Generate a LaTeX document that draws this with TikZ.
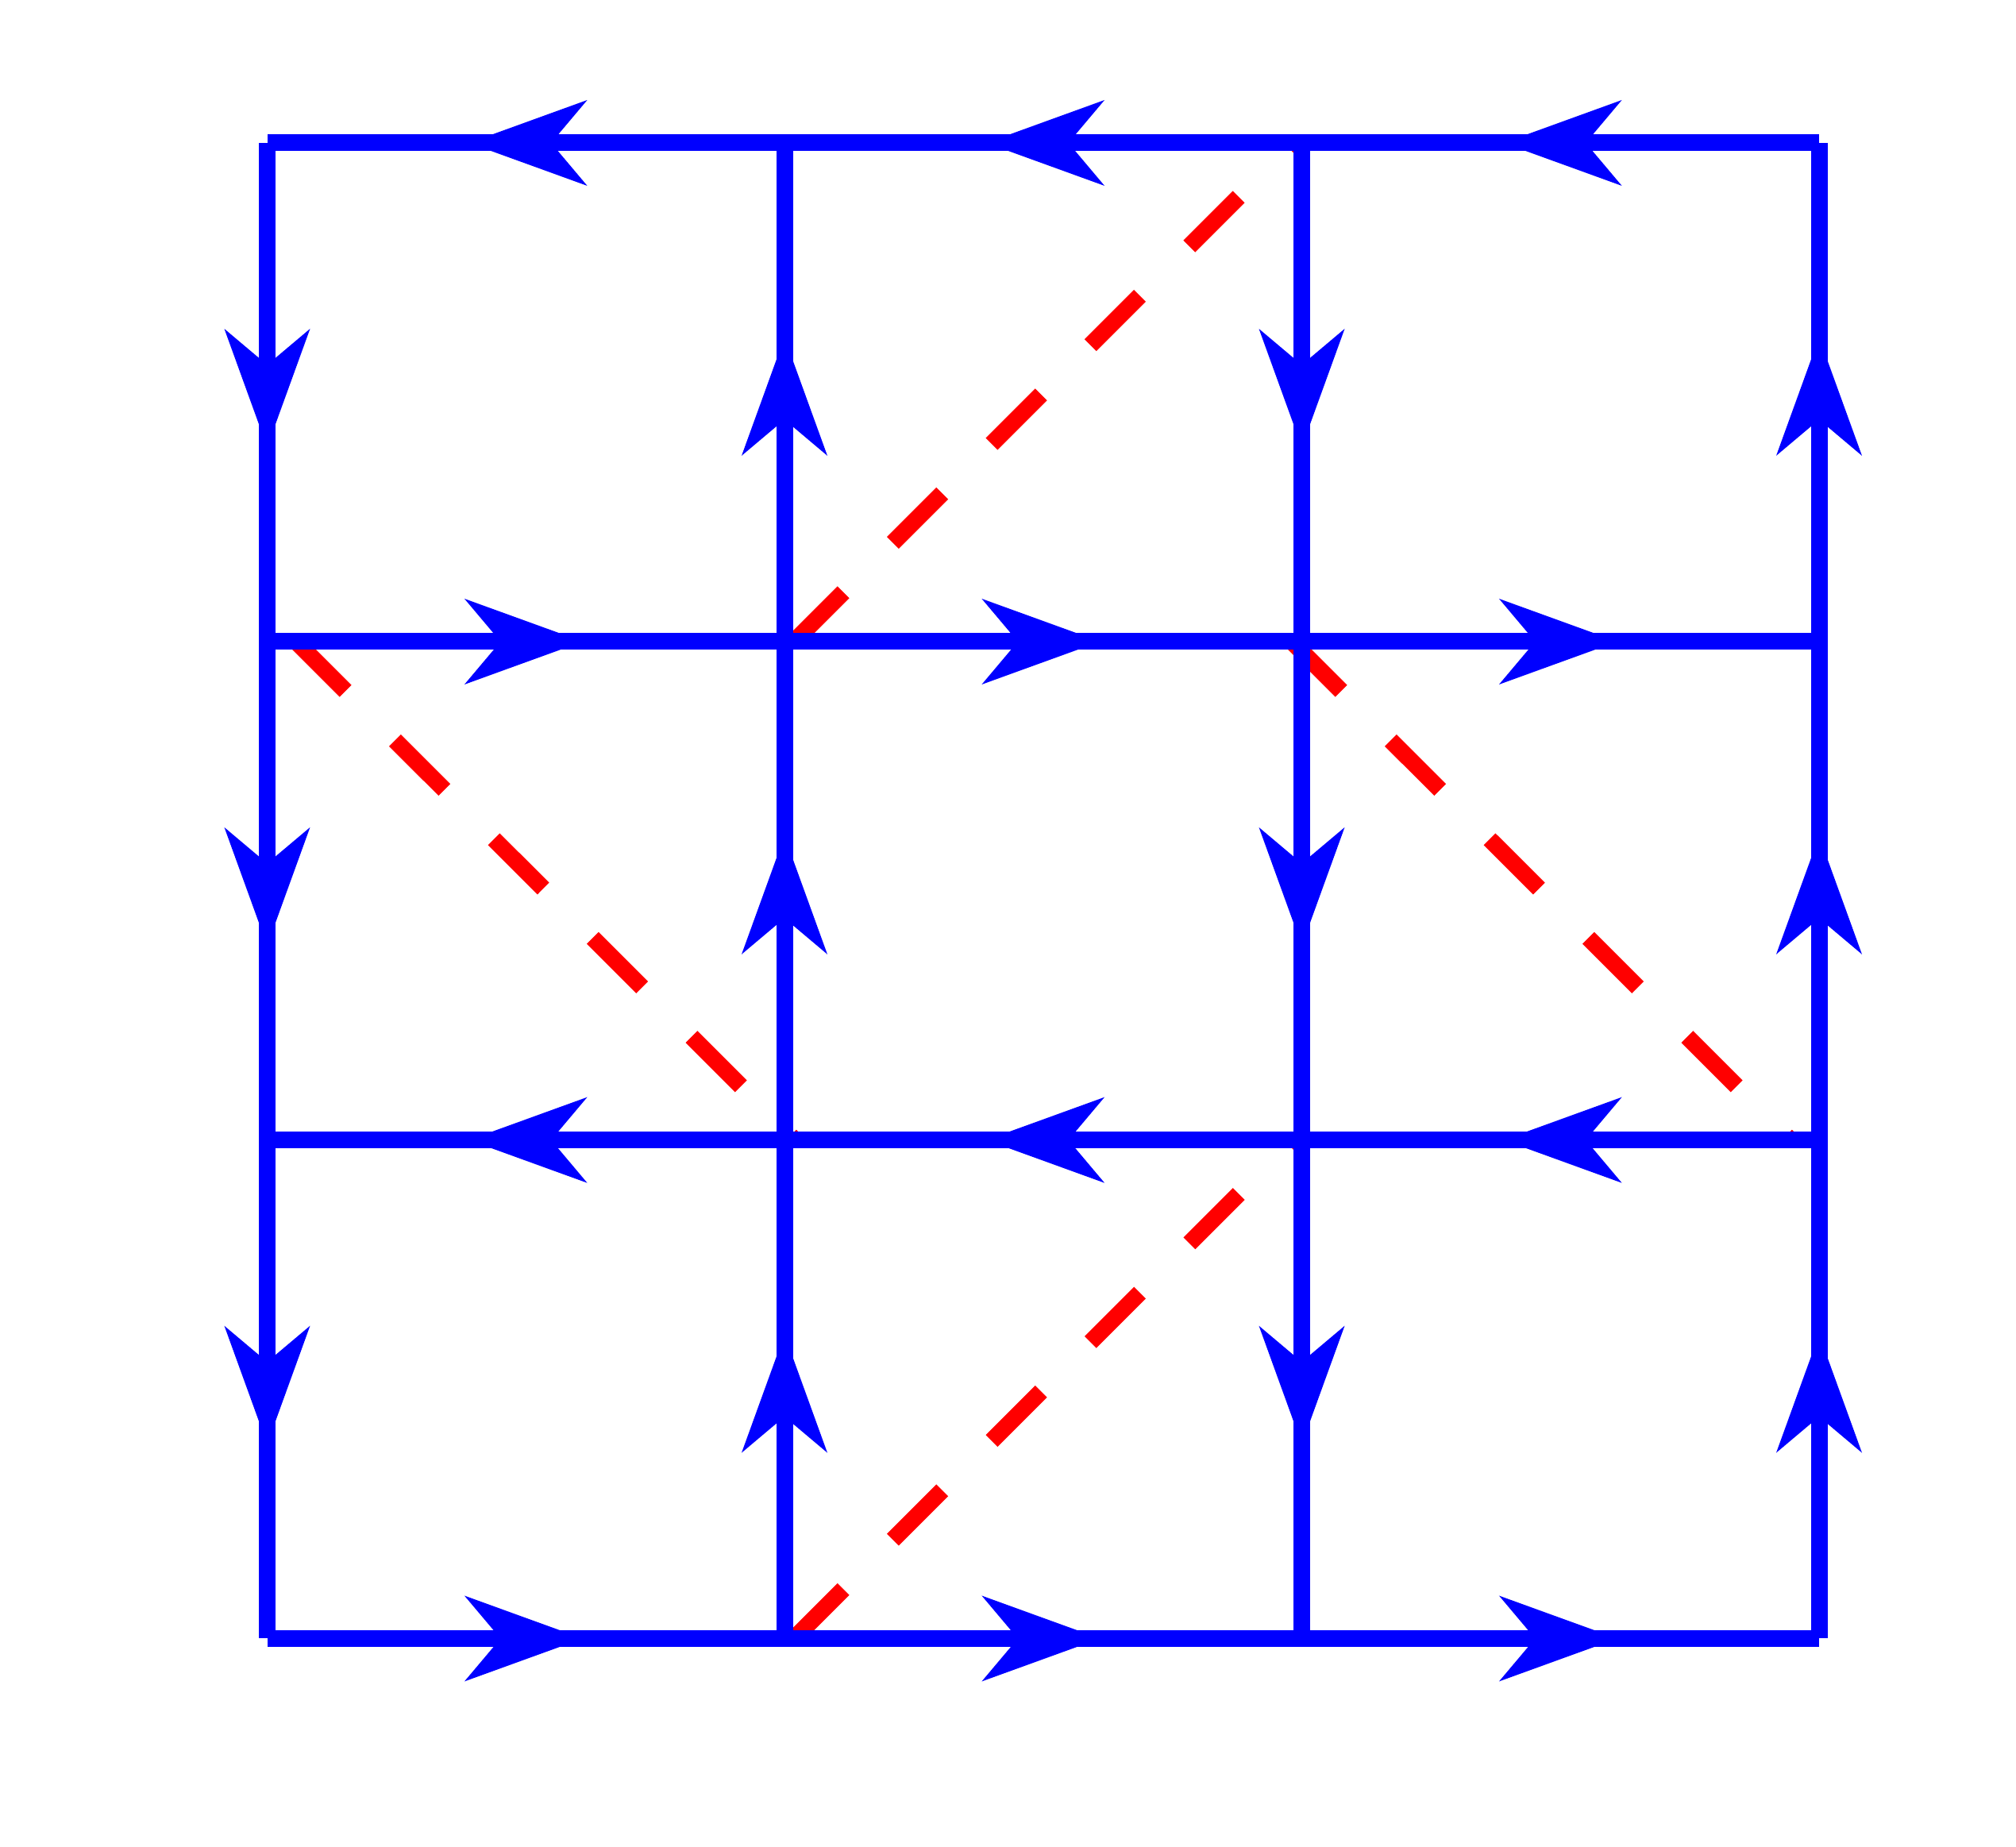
\documentclass[tikz,border=0pt]{standalone}
\usepackage{tikz}
\usetikzlibrary{decorations.markings}

\tikzset{
  bond/.style={blue,line width=0.21cm},
  midarr/.style={postaction={decorate,decoration={markings,
      mark=at position #1 with {\fill[blue] (0,0) -- (-1.49cm,0.54cm) -- (-1.035cm,0) -- (-1.49cm,-0.54cm) -- cycle;}}}},
  hbond/.style={bond,midarr=0.61},
  vbond/.style={bond,midarr=0.61},
  dualbond/.style={red,line width=0.21cm,dash pattern=on 0.88cm off 0.88cm},
}

\begin{document}
\begin{tikzpicture}
        \useasboundingbox (0,0) rectangle (25.39,23.26);

        % lattice sites
        \coordinate (v0-0) at (3.365,2.625);
        \coordinate (v1-0) at (9.88,2.625);
        \coordinate (v2-0) at (16.395,2.625);
        \coordinate (v3-0) at (22.91,2.625);
        \coordinate (v0-1) at (3.365,8.903);
        \coordinate (v1-1) at (9.88,8.903);
        \coordinate (v2-1) at (16.395,8.903);
        \coordinate (v3-1) at (22.91,8.903);
        \coordinate (v0-2) at (3.365,15.18);
        \coordinate (v1-2) at (9.88,15.18);
        \coordinate (v2-2) at (16.395,15.18);
        \coordinate (v3-2) at (22.91,15.18);
        \coordinate (v0-3) at (3.365,21.46);
        \coordinate (v1-3) at (9.88,21.46);
        \coordinate (v2-3) at (16.395,21.46);
        \coordinate (v3-3) at (22.91,21.46);

        % ends of the dashed strings
        \coordinate (s1a) at (10.00,15.18);
        \coordinate (s1b) at (16.28,21.46);
        \coordinate (s2a) at (3.73,15.18);
        \coordinate (s2b) at (10.01,8.903);
        \coordinate (s3a) at (16.27,15.18);
        \coordinate (s3b) at (22.55,8.903);
        \coordinate (s4a) at (10.00,2.625);
        \coordinate (s4b) at (16.28,8.903);

        \draw[dualbond] (s1a)--(s1b);
        \draw[dualbond] (s2a)--(s2b);
        \draw[dualbond] (s3a)--(s3b);
        \draw[dualbond] (s4a)--(s4b);

        % rows
        \draw[hbond] (v1-3)--(v0-3);
        \draw[hbond] (v2-3)--(v1-3);
        \draw[hbond] (v3-3)--(v2-3);
        \draw[hbond] (v0-2)--(v1-2);
        \draw[hbond] (v1-2)--(v2-2);
        \draw[hbond] (v2-2)--(v3-2);
        \draw[hbond] (v1-1)--(v0-1);
        \draw[hbond] (v2-1)--(v1-1);
        \draw[hbond] (v3-1)--(v2-1);
        \draw[hbond] (v0-0)--(v1-0);
        \draw[hbond] (v1-0)--(v2-0);
        \draw[hbond] (v2-0)--(v3-0);

        % columns
        \draw[vbond] (v0-3)--(v0-2);
        \draw[vbond] (v0-2)--(v0-1);
        \draw[vbond] (v0-1)--(v0-0);
        \draw[vbond] (v1-0)--(v1-1);
        \draw[vbond] (v1-1)--(v1-2);
        \draw[vbond] (v1-2)--(v1-3);
        \draw[vbond] (v2-3)--(v2-2);
        \draw[vbond] (v2-2)--(v2-1);
        \draw[vbond] (v2-1)--(v2-0);
        \draw[vbond] (v3-0)--(v3-1);
        \draw[vbond] (v3-1)--(v3-2);
        \draw[vbond] (v3-2)--(v3-3);
\end{tikzpicture}
\end{document}
